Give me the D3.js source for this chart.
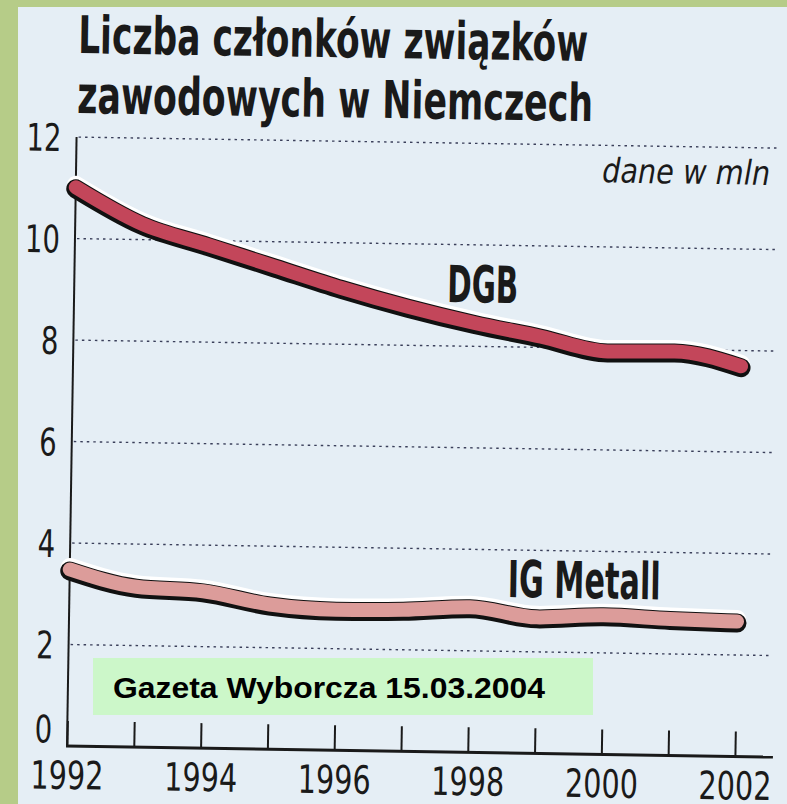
<!DOCTYPE html>
<html>
<head>
<meta charset="utf-8">
<script src="https://cdn.jsdelivr.net/npm/d3@7"></script>
<style>
  body { margin: 0; background: #b6cc88; }
  svg { display: block; }
</style>
</head>
<body>
<div id="chart"></div>
<script>
// values (mln members)
var years = [1992, 1993, 1994, 1995, 1996, 1997, 1998, 1999, 2000, 2001, 2002];
var dgb = [11.0, 10.3, 9.9, 9.5, 9.1, 8.75, 8.45, 8.2, 7.93, 7.95, 7.68];
var igMetall = [3.47, 3.15, 3.08, 2.84, 2.76, 2.78, 2.85, 2.67, 2.73, 2.68, 2.65];
var yTicks = [0, 2, 4, 6, 8, 10, 12];
var xLabels = [1992, 1994, 1996, 1998, 2000, 2002];

var W = 787, H = 804;
var narrow = "'Liberation Sans Narrow', 'DejaVu Sans Condensed', 'Arial Narrow', sans-serif";

var svg = d3.select("#chart").append("svg")
  .attr("width", W)
  .attr("height", H);

// green frame + paper
svg.append("rect").attr("width", W).attr("height", H).attr("fill", "#b6cc88");
svg.append("rect")
  .attr("x", 18).attr("y", 7)
  .attr("width", W - 18).attr("height", H - 7)
  .attr("fill", "#e5eef5");

// the scan is a little crooked, so the whole graphic is turned a bit
var g = svg.append("g")
  .attr("transform", "rotate(0.9, 67, 746)");

var x = d3.scaleLinear().domain([1992, 2002]).range([67, 735]);
var y = d3.scaleLinear().domain([0, 12]).range([746, 137]);

// title
var title = g.append("g")
  .attr("font-family", narrow)
  .attr("font-weight", "bold")
  .attr("font-size", "52px")
  .attr("fill", "#1a1a1a");
title.append("text")
  .attr("x", 67).attr("y", 53)
  .attr("textLength", 510).attr("lengthAdjust", "spacingAndGlyphs")
  .text("Liczba członków związków");
title.append("text")
  .attr("x", 67).attr("y", 113)
  .attr("textLength", 516).attr("lengthAdjust", "spacingAndGlyphs")
  .text("zawodowych w Niemczech");

// dotted grid
g.selectAll(".grid")
  .data(yTicks.filter(function(d) { return d > 0; }))
  .enter().append("line")
    .attr("class", "grid")
    .attr("x1", 69).attr("x2", 771)
    .attr("y1", function(d) { return y(d); })
    .attr("y2", function(d) { return y(d); })
    .attr("stroke", "#3a3f5a")
    .attr("stroke-width", 1.4)
    .attr("stroke-dasharray", "2.5,4");

g.append("text")
  .attr("x", 761).attr("y", 174)
  .attr("text-anchor", "end")
  .attr("font-family", narrow)
  .attr("font-style", "italic")
  .attr("font-size", "34px")
  .attr("fill", "#1a1a1a")
  .attr("textLength", 168).attr("lengthAdjust", "spacingAndGlyphs")
  .text("dane w mln");

// y axis
var yAxis = g.append("g")
  .attr("transform", "translate(67,0)")
  .call(d3.axisLeft(y).tickValues(yTicks).tickSize(0).tickPadding(15));
yAxis.select(".domain").remove();
yAxis.selectAll("text")
  .attr("font-family", narrow)
  .attr("font-size", "38px")
  .attr("fill", "#1a1a1a")
  .attr("textLength", function(d) { return String(d).length * 17.5; })
  .attr("lengthAdjust", "spacingAndGlyphs")
  .attr("dy", function(d) { return d == 0 ? "-0.1em" : "0.36em"; });

g.append("line")
  .attr("x1", 67).attr("x2", 67)
  .attr("y1", y(12)).attr("y2", y(0))
  .attr("stroke", "#1a1a1a").attr("stroke-width", 2);

// x axis, ticks point up
var xAxis = g.append("g")
  .attr("transform", "translate(0," + y(0) + ")")
  .call(d3.axisBottom(x)
    .tickValues(years)
    .tickSizeInner(-25)
    .tickSizeOuter(0)
    .tickFormat(function(d) { return xLabels.indexOf(d) >= 0 ? d : ""; }));
xAxis.select(".domain").remove();
xAxis.selectAll(".tick line")
  .attr("stroke", "#1a1a1a").attr("stroke-width", 2);
xAxis.selectAll("text")
  .filter(function(d) { return xLabels.indexOf(d) >= 0; })
  .attr("y", 43).attr("dy", 0)
  .attr("font-family", narrow)
  .attr("font-size", "39px")
  .attr("fill", "#1a1a1a")
  .attr("textLength", 73)
  .attr("lengthAdjust", "spacingAndGlyphs");

g.append("line")
  .attr("x1", 66).attr("x2", 773)
  .attr("y1", y(0)).attr("y2", y(0))
  .attr("stroke", "#1a1a1a").attr("stroke-width", 3);

// thick "printed" lines: white shine, black shadow, coloured body
var line = d3.line()
  .x(function(d, i) { return x(years[i]); })
  .y(function(d) { return y(d); })
  .curve(d3.curveMonotoneX);

function drawSeries(values, fill) {
  var s = g.append("g")
    .attr("fill", "none")
    .attr("stroke-linecap", "round")
    .attr("stroke-linejoin", "round");
  s.append("path")
    .attr("d", line(values))
    .attr("transform", "translate(0,-3)")
    .attr("stroke", "#ffffff")
    .attr("stroke-width", 18);
  s.append("path")
    .attr("d", line(values))
    .attr("transform", "translate(0,1)")
    .attr("stroke", "#111111")
    .attr("stroke-width", 19);
  s.append("path")
    .attr("d", line(values))
    .attr("transform", "translate(0,-0.5)")
    .attr("stroke", fill)
    .attr("stroke-width", 14);
}
drawSeries(dgb, "#c3465a");
drawSeries(igMetall, "#dc9c9a");

// series names
g.append("text")
  .attr("x", 440).attr("y", 296)
  .attr("font-family", narrow).attr("font-weight", "bold")
  .attr("font-size", "51px").attr("fill", "#1a1a1a")
  .attr("textLength", 71).attr("lengthAdjust", "spacingAndGlyphs")
  .text("DGB");
g.append("text")
  .attr("x", 505).attr("y", 590)
  .attr("font-family", narrow).attr("font-weight", "bold")
  .attr("font-size", "51px").attr("fill", "#1a1a1a")
  .attr("textLength", 153).attr("lengthAdjust", "spacingAndGlyphs")
  .text("IG Metall");

// source box (not rotated)
svg.append("rect")
  .attr("x", 93).attr("y", 658)
  .attr("width", 500).attr("height", 57)
  .attr("fill", "#ccf7c9");
svg.append("text")
  .attr("x", 113).attr("y", 698)
  .attr("font-family", "'Liberation Sans', Arial, sans-serif")
  .attr("font-weight", "bold")
  .attr("font-size", "29px")
  .attr("fill", "#000")
  .attr("textLength", 432).attr("lengthAdjust", "spacingAndGlyphs")
  .text("Gazeta Wyborcza 15.03.2004");
</script>
</body>
</html>
